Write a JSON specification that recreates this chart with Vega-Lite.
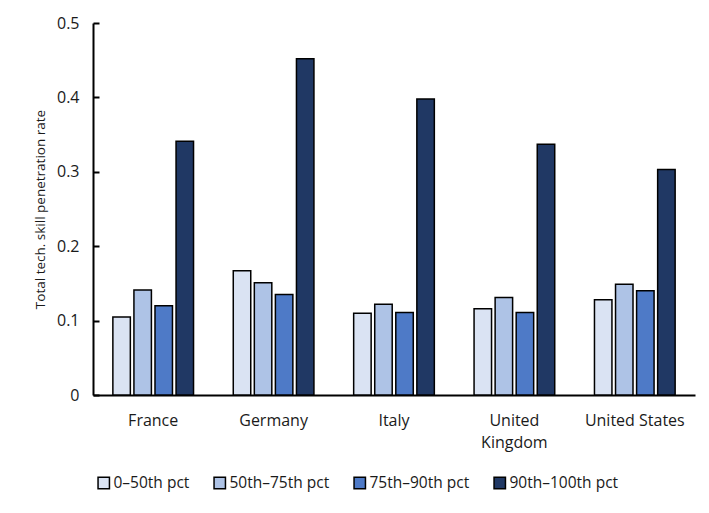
{
  "$schema": "https://vega.github.io/schema/vega-lite/v6.json",
  "width": 602,
  "height": 372,
  "autosize": {"type": "none"},
  "padding": {"left": 93, "top": 23, "right": 14, "bottom": 118},
  "background": "white",
  "data": {
    "values": [
      {"country": "France", "group": "0–50th pct", "rate": 0.105},
      {"country": "France", "group": "50th–75th pct", "rate": 0.141},
      {"country": "France", "group": "75th–90th pct", "rate": 0.120},
      {"country": "France", "group": "90th–100th pct", "rate": 0.341},
      {"country": "Germany", "group": "0–50th pct", "rate": 0.167},
      {"country": "Germany", "group": "50th–75th pct", "rate": 0.151},
      {"country": "Germany", "group": "75th–90th pct", "rate": 0.135},
      {"country": "Germany", "group": "90th–100th pct", "rate": 0.452},
      {"country": "Italy", "group": "0–50th pct", "rate": 0.110},
      {"country": "Italy", "group": "50th–75th pct", "rate": 0.122},
      {"country": "Italy", "group": "75th–90th pct", "rate": 0.111},
      {"country": "Italy", "group": "90th–100th pct", "rate": 0.398},
      {"country": "United Kingdom", "group": "0–50th pct", "rate": 0.116},
      {"country": "United Kingdom", "group": "50th–75th pct", "rate": 0.131},
      {"country": "United Kingdom", "group": "75th–90th pct", "rate": 0.111},
      {"country": "United Kingdom", "group": "90th–100th pct", "rate": 0.337},
      {"country": "United States", "group": "0–50th pct", "rate": 0.128},
      {"country": "United States", "group": "50th–75th pct", "rate": 0.149},
      {"country": "United States", "group": "75th–90th pct", "rate": 0.140},
      {"country": "United States", "group": "90th–100th pct", "rate": 0.303}
    ]
  },
  "mark": {"type": "bar", "stroke": "black", "strokeWidth": 1.5},
  "encoding": {
    "x": {
      "field": "country",
      "type": "nominal",
      "sort": null,
      "title": null,
      "scale": {"paddingInner": 0.33, "paddingOuter": 0.165},
      "axis": {
        "labelAngle": 0,
        "ticks": false,
        "labelPadding": 17,
        "labelLineHeight": 22,
        "labelExpr": "datum.label == 'United Kingdom' ? ['United', 'Kingdom'] : datum.label"
      }
    },
    "xOffset": {
      "field": "group",
      "type": "nominal",
      "sort": null,
      "scale": {"paddingInner": 0.17}
    },
    "y": {
      "field": "rate",
      "type": "quantitative",
      "title": "Total tech. skill penetration rate",
      "scale": {"domain": [0, 0.5]},
      "axis": {
        "values": [0, 0.1, 0.2, 0.3, 0.4, 0.5],
        "format": "~g",
        "grid": false,
        "tickSize": -6,
        "labelPadding": 20,
        "titlePadding": 9
      }
    },
    "color": {
      "field": "group",
      "type": "nominal",
      "sort": null,
      "title": null,
      "scale": {"range": ["#DAE3F3", "#AEC3E6", "#4E7AC7", "#203864"]},
      "legend": {
        "orient": "none",
        "direction": "horizontal",
        "legendX": 3,
        "legendY": 452,
        "symbolType": "square",
        "symbolSize": 130,
        "symbolStrokeColor": "black",
        "symbolStrokeWidth": 1.5,
        "symbolOpacity": 1,
        "columnPadding": 21,
        "labelOffset": 2
      }
    }
  },
  "config": {
    "font": "Open Sans",
    "view": {"stroke": null},
    "axis": {
      "domainColor": "black",
      "domainWidth": 2,
      "tickColor": "black",
      "tickWidth": 2,
      "labelFont": "Open Sans",
      "labelFontSize": 16,
      "labelColor": "#1a1a1a",
      "titleFont": "Open Sans",
      "titleFontSize": 13.5,
      "titleFontWeight": "normal",
      "titleColor": "#1a1a1a"
    },
    "legend": {
      "labelFont": "Open Sans",
      "labelFontSize": 15.5,
      "labelColor": "#1a1a1a"
    }
  }
}
